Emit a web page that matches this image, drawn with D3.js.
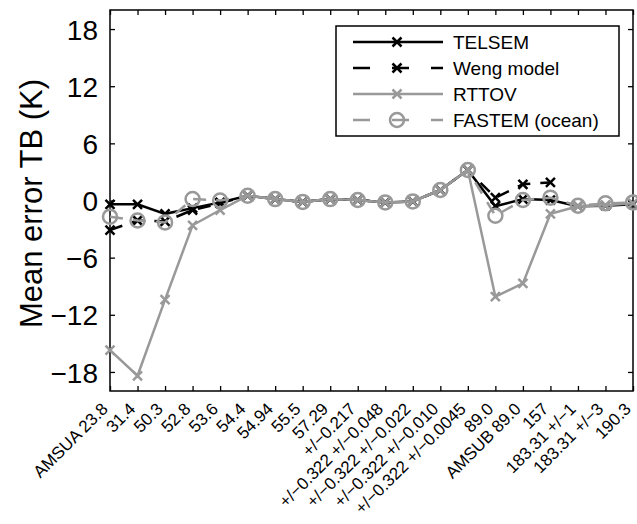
<!DOCTYPE html>
<html><head><meta charset="utf-8">
<script src="https://cdn.jsdelivr.net/npm/d3@7"></script>
<style>body{margin:0;background:#fff} svg{display:block} text{font-family:"Liberation Sans",Arial,Helvetica,sans-serif}</style>
</head><body><svg id="c" width="637" height="524"></svg>
<script>
const categories = ["AMSUA 23.8","31.4","50.3","52.8","53.6","54.4","54.94","55.5","57.29","+/\u22120.217",
  "+/\u22120.322 +/\u22120.048","+/\u22120.322 +/\u22120.022","+/\u22120.322 +/\u22120.010","+/\u22120.322 +/\u22120.0045",
  "89.0","AMSUB 89.0","157","183.31 +/\u22121","183.31 +/\u22123","190.3"];
const telsem = [-0.4,-0.4,-1.4,-0.8,-0.2,0.5,0.15,-0.15,0.15,0.05,-0.2,-0.1,1.1,3.2,-0.6,0.15,0.05,-0.6,-0.55,-0.4];
const weng   = [-3.1,-2.1,-2.2,-1.0,-0.3,0.5,0.15,-0.15,0.15,0.05,-0.2,-0.1,1.1,3.2,0.3,1.7,1.9,null,null,null];
const rttov  = [-15.7,-18.4,-10.4,-2.6,-1.0,0.5,0.15,-0.15,0.15,0.05,-0.2,-0.1,1.1,3.2,-10.1,-8.7,-1.4,-0.6,-0.5,-0.3];
const fastem = [-1.7,-2.1,-2.3,0.15,0.0,0.5,0.15,-0.15,0.15,0.05,-0.2,-0.1,1.1,3.2,-1.6,0.05,0.3,-0.55,-0.3,-0.2];
const seriesNames = ["TELSEM","Weng model","RTTOV","FASTEM (ocean)"];
const yTicks = [-18,-12,-6,0,6,12,18];

const styles = [
  {color:"#000", dash:null, marker:"x"},
  {color:"#000", dash:"13,10", marker:"x"},
  {color:"#999", dash:null, marker:"x"},
  {color:"#999", dash:"13,10", marker:"o"}
];
const seriesVals = [telsem, weng, rttov, fastem];

const L=110, R=633, T=10, B=391;
const svg = d3.select("#c");
const x = d3.scalePoint().domain(categories).range([L,R]).padding(0);
const y = d3.scaleLinear().domain([-20,20]).range([B,T]);

// frame
svg.append("rect").attr("x",L).attr("y",T).attr("width",R-L).attr("height",B-T)
  .attr("fill","none").attr("stroke","#000").attr("stroke-width",1.5);

// axes
const tk = 5;
const ax = svg.append("g").attr("transform",`translate(${L},0)`)
  .call(d3.axisLeft(y).tickValues(yTicks).tickSize(-tk).tickPadding(12));
const axr = svg.append("g").attr("transform",`translate(${R},0)`)
  .call(d3.axisRight(y).tickValues(yTicks).tickSize(-tk).tickFormat(""));
const axb = svg.append("g").attr("transform",`translate(0,${B})`)
  .call(d3.axisBottom(x).tickSize(-tk).tickFormat(""));
const axt = svg.append("g").attr("transform",`translate(0,${T})`)
  .call(d3.axisTop(x).tickSize(-tk).tickFormat(""));
[ax,axr,axb,axt].forEach(g=>{g.select(".domain").remove(); g.selectAll(".tick line").attr("stroke","#000").attr("stroke-width",1.3);});
ax.selectAll(".tick text").attr("font-size",28).attr("fill","#000").attr("dy","0.36em");

// x tick labels rotated
svg.append("g").selectAll("text").data(categories).join("text")
  .attr("transform",d=>`translate(${x(d)-1},${B+19}) rotate(-45)`)
  .attr("text-anchor","end")
  .attr("font-size",17).attr("fill","#000").text(d=>d);

// y label
svg.append("text").attr("transform",`translate(42,${(T+B)/2+3}) rotate(-90)`)
  .attr("text-anchor","middle").attr("font-size",31).attr("fill","#000").text("Mean error TB (K)");

function drawMarker(g, type, color, cx, cy, s){
  if(type==="x"){
    g.append("path").attr("d",`M${cx-s},${cy-s}L${cx+s},${cy+s}M${cx-s},${cy+s}L${cx+s},${cy-s}`)
      .attr("stroke",color).attr("stroke-width",2.5).attr("fill","none");
  } else {
    g.append("circle").attr("cx",cx).attr("cy",cy).attr("r",7)
      .attr("stroke",color).attr("stroke-width",2.5).attr("fill","none");
  }
}

const line = d3.line().defined(d=>d.v!=null).x(d=>x(d.c)).y(d=>y(d.v));
seriesVals.forEach((vals,i)=>{
  const st = styles[i];
  const data = categories.map((c,j)=>({c, v:vals[j]}));
  const g = svg.append("g");
  g.append("path").datum(data).attr("d",line).attr("fill","none")
    .attr("stroke",st.color).attr("stroke-width",2.5).attr("stroke-dasharray",st.dash);
  data.filter(d=>d.v!=null).forEach(d=>drawMarker(g, st.marker, st.color, x(d.c), y(d.v), 4.5));
});

// legend
const lg = svg.append("g");
lg.append("rect").attr("x",336).attr("y",26).attr("width",283).attr("height",110)
  .attr("fill","#fff").attr("stroke","#000").attr("stroke-width",1.5);
seriesNames.forEach((n,i)=>{
  const st = styles[i];
  const yy = 42 + i*26;
  lg.append("line").attr("x1",353).attr("x2",443).attr("y1",yy).attr("y2",yy)
    .attr("stroke",st.color).attr("stroke-width",2.5).attr("stroke-dasharray",st.dash ? "17,22" : null);
  drawMarker(lg, st.marker, st.color, 397, yy, 4.5);
  lg.append("text").attr("x",453).attr("y",yy).attr("dy","0.36em").attr("font-size",19).attr("fill","#000").text(n);
});
</script></body></html>
